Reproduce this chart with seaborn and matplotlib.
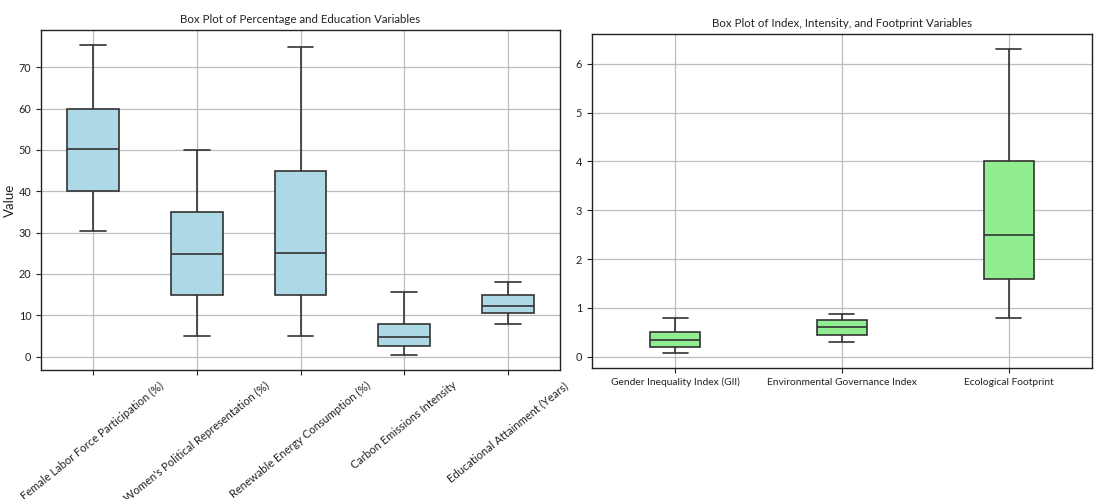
import matplotlib
matplotlib.use("Agg")
import matplotlib.pyplot as plt
import numpy as np
import pandas as pd
import seaborn as sns

# Five-number summaries (min, Q1, median, Q3, max) for each indicator
pct_labels = [
    "Female Labor Force Participation (%)",
    "Women's Political Representation (%)",
    "Renewable Energy Consumption (%)",
    "Carbon Emissions Intensity",
    "Educational Attainment (Years)",
]
female_labor = [30.5, 40.0, 50.3, 60.0, 75.3]
women_political = [5.0, 15.0, 24.8, 35.0, 50.0]
renewable_energy = [5.0, 15.0, 25.0, 45.0, 75.0]
carbon_intensity = [0.5, 2.5, 4.7, 8.0, 15.7]
education_years = [8.0, 10.5, 12.3, 15.0, 18.0]

idx_labels = [
    "Gender Inequality Index (GII)",
    "Environmental Governance Index",
    "Ecological Footprint",
]
gii = [0.08, 0.20, 0.34, 0.50, 0.80]
env_governance = [0.30, 0.45, 0.60, 0.75, 0.88]
eco_footprint = [0.80, 1.60, 2.50, 4.00, 6.30]

pct_df = pd.DataFrame({
    "Variable": np.repeat(pct_labels, 5),
    "Value": female_labor + women_political + renewable_energy
    + carbon_intensity + education_years,
})
idx_df = pd.DataFrame({
    "Variable": np.repeat(idx_labels, 5),
    "Value": gii + env_governance + eco_footprint,
})

sns.set_style("white")
plt.rcParams["font.family"] = ["Lato", "DejaVu Sans"]

fig = plt.figure(figsize=(10.94, 4.99), dpi=100)
ax1 = fig.add_axes([0.0375, 0.2585, 0.4744, 0.6814])
ax2 = fig.add_axes([0.5411, 0.2625, 0.4570, 0.6693])

edge = "#333333"
box_kw = dict(whis=(0, 100), linecolor=edge, linewidth=1.2, saturation=1)

sns.boxplot(data=pct_df, x="Variable", y="Value", color="lightblue",
            width=0.5, ax=ax1, **box_kw)
sns.boxplot(data=idx_df, x="Variable", y="Value", color="lightgreen",
            width=0.3, ax=ax2, **box_kw)

for ax in (ax1, ax2):
    ax.grid(True, color="#bdbdbd", linewidth=0.9)
    ax.set_axisbelow(True)
    for s in ax.spines.values():
        s.set_visible(True)
        s.set_color("#222222")
        s.set_linewidth(1.0)
    ax.tick_params(axis="both", which="both", length=3.5, width=0.8,
                   color="#222222", labelcolor="#222222", labelsize=7.8,
                   bottom=True, left=True)
    ax.set_xlabel("")

ax2.tick_params(axis="x", labelsize=7.4)
ax1.tick_params(axis="x", labelsize=8.0)

ax1.set_title("Box Plot of Percentage and Education Variables", fontsize=8.3, pad=5,
              color="#222222")
ax2.set_title("Box Plot of Index, Intensity, and Footprint Variables", fontsize=8.3, pad=5,
              color="#222222")
ax1.set_ylabel("Value", fontsize=9.5, color="#222222", labelpad=2)
ax2.set_ylabel("")
plt.setp(ax1.get_xticklabels(), rotation=39, ha="center")

fig.savefig("out.png", dpi=100)
